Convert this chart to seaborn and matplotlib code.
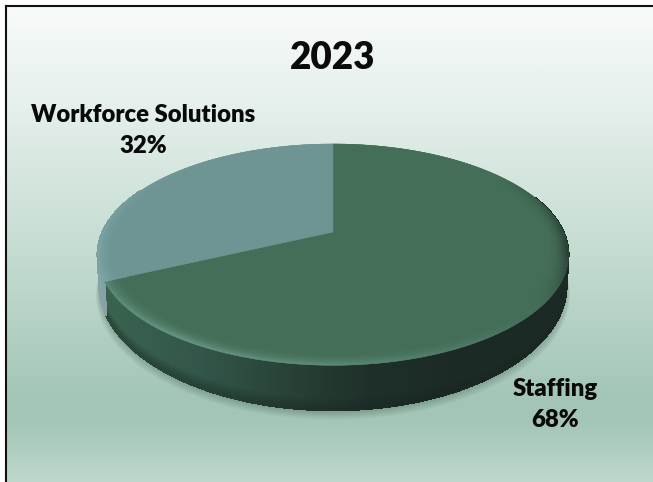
import numpy as np
import seaborn as sns
import matplotlib
matplotlib.use("Agg")
import matplotlib.pyplot as plt
from matplotlib.collections import PolyCollection
from matplotlib.colors import to_rgb

categories = ["Staffing", "Workforce Solutions"]
shares = [68, 32]
title = "2023"

sns.set_theme(style="white")
plt.rcParams['font.family'] = ['Lato', 'DejaVu Sans']

W, H = 653, 482
CX, CY, RX, RY, K, D0 = 333.0, 232.0, 230.5, 106.0, 0.2045, 28.5
FL, FT, FR, FB = 6, 6, 653, 482

fig = plt.figure(figsize=(W / 100, H / 100), dpi=100, facecolor="white")
ax = fig.add_axes([0, 0, 1, 1])
ax.set_xlim(0, W)
ax.set_ylim(H, 0)
ax.axis("off")

bg = sns.blend_palette(["#F8FBFA", "#E6F0EC", "#C6DDD2", "#A2C5B5", "#A5C7B7", "#BDD8CB"], n_colors=256, as_cmap=True)
stops = np.array([0, .2, .5, .84, .88, 1.0])
v = np.linspace(0, 1, 400)
grad = np.interp(v, stops, np.linspace(0, 1, 6))[:, None]
ax.imshow(grad, cmap=bg, vmin=0, vmax=1, extent=[FL, FR, FB, FT], aspect="auto", zorder=0)


def project(t, r=1.0, drop=0.0):
    X, Y = r * np.sin(t), r * np.cos(t)
    s = 1 + K * Y
    x = CX + RX * X / s
    y = CY - RY * Y / s
    x = CX + (x - CX) * (1 - 0.008 * drop)
    y = y + drop * D0 / s ** 2
    return x, y


def mix(a, b, w):
    a, b = np.array(to_rgb(a)), np.array(to_rgb(b))
    return a + (b - a) * np.clip(w, 0, 1)


edges = np.radians(np.concatenate([[0], np.cumsum(shares)]) / sum(shares) * 360)
tt = np.linspace(0, 2 * np.pi, 721)

# soft shadow beneath the disk
for i in range(12):
    g = 1 + (12 - i) * 0.0012
    bx, by = project(tt, drop=1.0)
    ax.fill(CX + (bx - CX) * g, by + (12 - i) * 0.7 + 1, color="#4F6F60", alpha=0.035, lw=0, zorder=1)

# side wall
side_pal = sns.blend_palette(["#39624F", "#33574A", "#294338", "#1E2F29", "#1C2A25"], n_colors=100)
quads, cols = [], []
ts = np.linspace(np.radians(70), np.radians(295), 451)
rows = np.linspace(0, 1, 21)
for a, b in zip(ts[:-1], ts[1:]):
    m = (a + b) / 2
    xm = project(m)[0]
    for d0, d1 in zip(rows[:-1], rows[1:]):
        xa, ya = project(a, drop=d0); xb, yb = project(b, drop=d0)
        xc, yc = project(b, drop=d1); xd, yd = project(a, drop=d1)
        quads.append([(xa, ya), (xb, yb), (xc, yc), (xd, yd)])
        if m < edges[1]:
            w = np.clip((xm - 105) / 350, 0, 1)
            c = np.array(side_pal[int(w * 99)])
            c = mix(c, "#16231E", max(0, (d1 - 0.75) / 0.25) * 0.4)
        else:
            c = mix("#7BA3A3", "#8AA2A6", d1)
        cols.append(c)
ax.add_collection(PolyCollection(quads, facecolors=cols, edgecolors="face", linewidths=0.8,
                                 antialiaseds=False, zorder=2))

# top surface
bases = ["#446E58", "#6E9494"]
for i in range(len(shares)):
    t = np.linspace(edges[i], edges[i + 1], 400)
    x, y = project(t)
    ax.fill(np.r_[CX, x], np.r_[CY, y], color=bases[i], lw=0.3, zorder=3)

# bevel round the rim
rim_deg = [55, 85, 100, 125, 150, 180, 215, 245]
rim_col = np.array([to_rgb(c) for c in ["#446E58", "#2C4A3C", "#24392F", "#426A57", "#4E7A67",
                                        "#5E8E7B", "#6A9A88", "#5A8A78"]])
quads, cols = [], []
ts = np.linspace(0, 2 * np.pi, 541)
us = np.linspace(0.91, 1.0, 11)
for a, b in zip(ts[:-1], ts[1:]):
    m = (a + b) / 2
    deg = np.degrees(m)
    idx = 0 if m < edges[1] else 1
    if idx == 0:
        target = [np.interp(deg, rim_deg, rim_col[:, j]) for j in range(3)]
        strength = 1.0
    else:
        target = to_rgb("#80AAAA")
        strength = np.clip((320 - deg) / 60, 0, 1) * 0.85
    for u0, u1 in zip(us[:-1], us[1:]):
        uu = (u0 + u1) / 2
        s = ((uu - us[0]) / (us[-1] - us[0])) ** 2.5
        quads.append([project(a, u0), project(b, u0), project(b, u1), project(a, u1)])
        cols.append(mix(bases[idx], target, s * strength))
ax.add_collection(PolyCollection(quads, facecolors=cols, edgecolors="face", linewidths=0.3, zorder=4))

# text
TC = "#0A0A0A"
ax.text(333, 58, title, ha="center", va="center", fontsize=26.5, fontweight=800, color=TC, zorder=6)
lab_xy = [(555, 404.5), (143, 130.5)]
for name, val, (lx, ly) in zip(categories, shares, lab_xy):
    ax.text(lx, ly, f"{name}\n{val}%", ha="center", va="center", fontsize=17.2, fontweight=800,
            color=TC, linespacing=1.5, zorder=6)

# frame lines
ax.plot([FL, FL], [FT, FB], color="#111111", lw=1.5, solid_capstyle="projecting", zorder=7)
ax.plot([FL, FR], [FT, FT], color="#111111", lw=1.5, solid_capstyle="projecting", zorder=7)

fig.savefig("out.png", dpi=100, facecolor="white")
